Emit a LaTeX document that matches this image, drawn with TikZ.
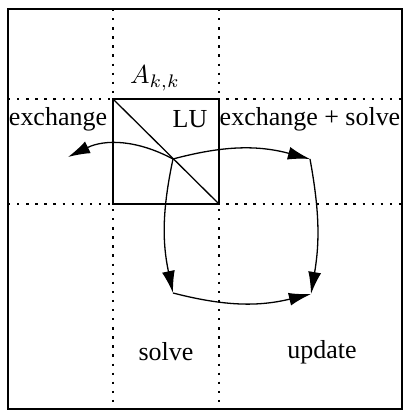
\documentclass[tikz,border=0pt]{standalone}
\usepackage{fontspec}
\setmainfont{Liberation Serif}
\usepackage{amsmath}
\usetikzlibrary{arrows.meta}

\begin{document}
\begin{tikzpicture}[x=0.385pt,y=-0.385pt,line width=0.5pt,
  grid/.style={dash pattern=on 0.9pt off 2.6pt},
  flow/.style={-{Latex[length=8.5pt,width=5pt]}}]
  \useasboundingbox (0,0) rectangle (411,418);
  \draw (8,9) rectangle (402,409);
  % partition of the matrix
  \draw[grid] (113,9) -- (113,409) (219,9) -- (219,409)
              (8,99) -- (402,99) (8,204) -- (402,204);
  \draw (113,99) rectangle (219,204);
  \draw (113,99) -- (219,204);
  \node at (155,78) {$A_{k,k}$};
  \node (xch) at (58,119) {exchange};
  \node (lu) at (190,119) {LU};
  \node (xs) at (310,119) {exchange + solve};
  \node (slv) at (166,352) {solve};
  \node (upd) at (322,352) {update};
  \coordinate (c) at (173,159);
  \coordinate (l) at (68,157);
  \coordinate (tr) at (310,159);
  \coordinate (bl) at (173,293);
  \coordinate (br) at (311,294);
  \path[flow]
    (c) edge [bend right=27] (l)
    (c) edge [bend left=15] (tr)
    (c) edge [bend right=12] (bl)
    (tr) edge [bend left=10] (br)
    (bl) edge [bend right=14] (br);
\end{tikzpicture}
\end{document}
